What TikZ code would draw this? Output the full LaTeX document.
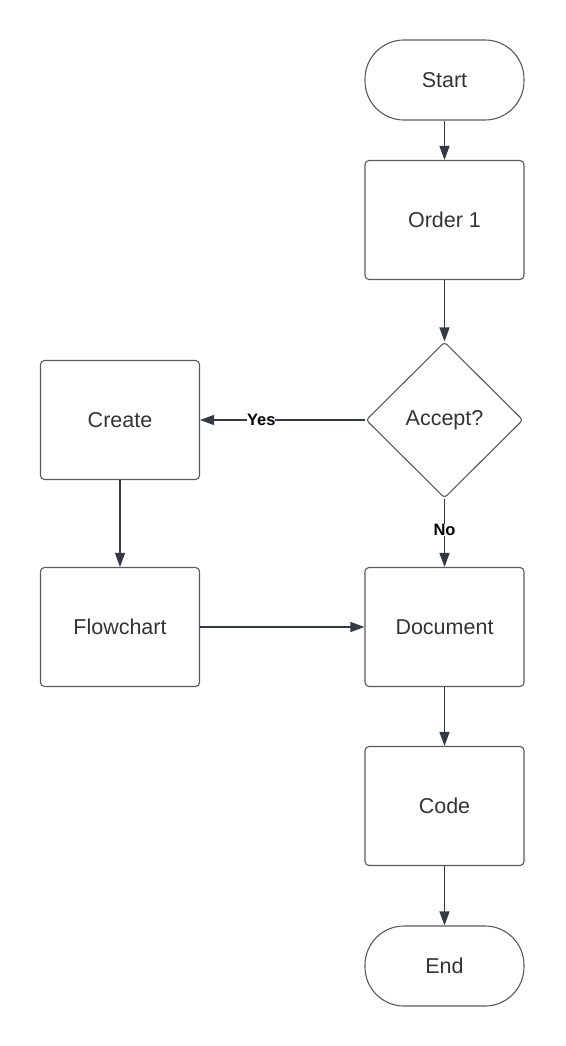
\documentclass[tikz,border=0pt]{standalone}
\usepackage{fontspec}
\setmainfont{Liberation Sans}
\usepackage{tikz}
\usetikzlibrary{arrows.meta,shapes.geometric,positioning}
\definecolor{boxline}{HTML}{5A5A5A}
\definecolor{arrline}{HTML}{343A45}
\definecolor{txt}{HTML}{333333}
\tikzset{%
  box/.style={rectangle,draw=boxline,line width=1.1pt,rounded corners=4pt,
    minimum width=159pt,minimum height=119pt,text=txt,font=\fontsize{21.5}{24}\selectfont},
  term/.style={box,minimum height=80pt,rounded corners=39pt},
  decide/.style={diamond,draw=boxline,line width=1.1pt,rounded corners=3pt,
    minimum width=157pt,minimum height=156pt,inner sep=0pt,text=txt,
    font=\fontsize{21.5}{24}\selectfont},
  flow/.style={draw=arrline,line width=1.2pt,-{Triangle[length=14pt,width=10pt]}},
  lbl/.style={fill=white,inner sep=0pt,font=\fontsize{16.5}{18}\bfseries\selectfont}
}
\begin{document}
\begin{tikzpicture}[x=1pt,y=-1pt]
    \useasboundingbox (0,0) rectangle (565,1046);
    %
    \node[term] (start) at (444.5,80) {Start};
    \node[box] (ord) at (444.5,220) {Order 1};
    \node[decide] (acc) at (444.5,420) {Accept?};
    \node[box] (create) at (120,420) {Create};
    \node[box] (chart) at (120,627) {Flowchart};
    \node[box] (doc) at (444.5,627) {Document};
    \node[box] (code) at (444.5,806) {Code};
    \node[term] (stop) at (444.5,966) {End};
    %
    \draw[flow] (start)--(ord);
    \draw[flow] (ord)--(acc);
    \draw[flow] (acc.west)--(create.east) node[lbl,pos=0.63]{Yes};
    \draw[flow] (acc.south)--(doc.north) node[lbl,pos=0.46]{No};
    \draw[flow] (create)--(chart);
    \draw[flow] (chart)--(doc);
    \draw[flow] (doc)--(code);
    \draw[flow] (code)--(stop);
  \end{tikzpicture}
\end{document}
